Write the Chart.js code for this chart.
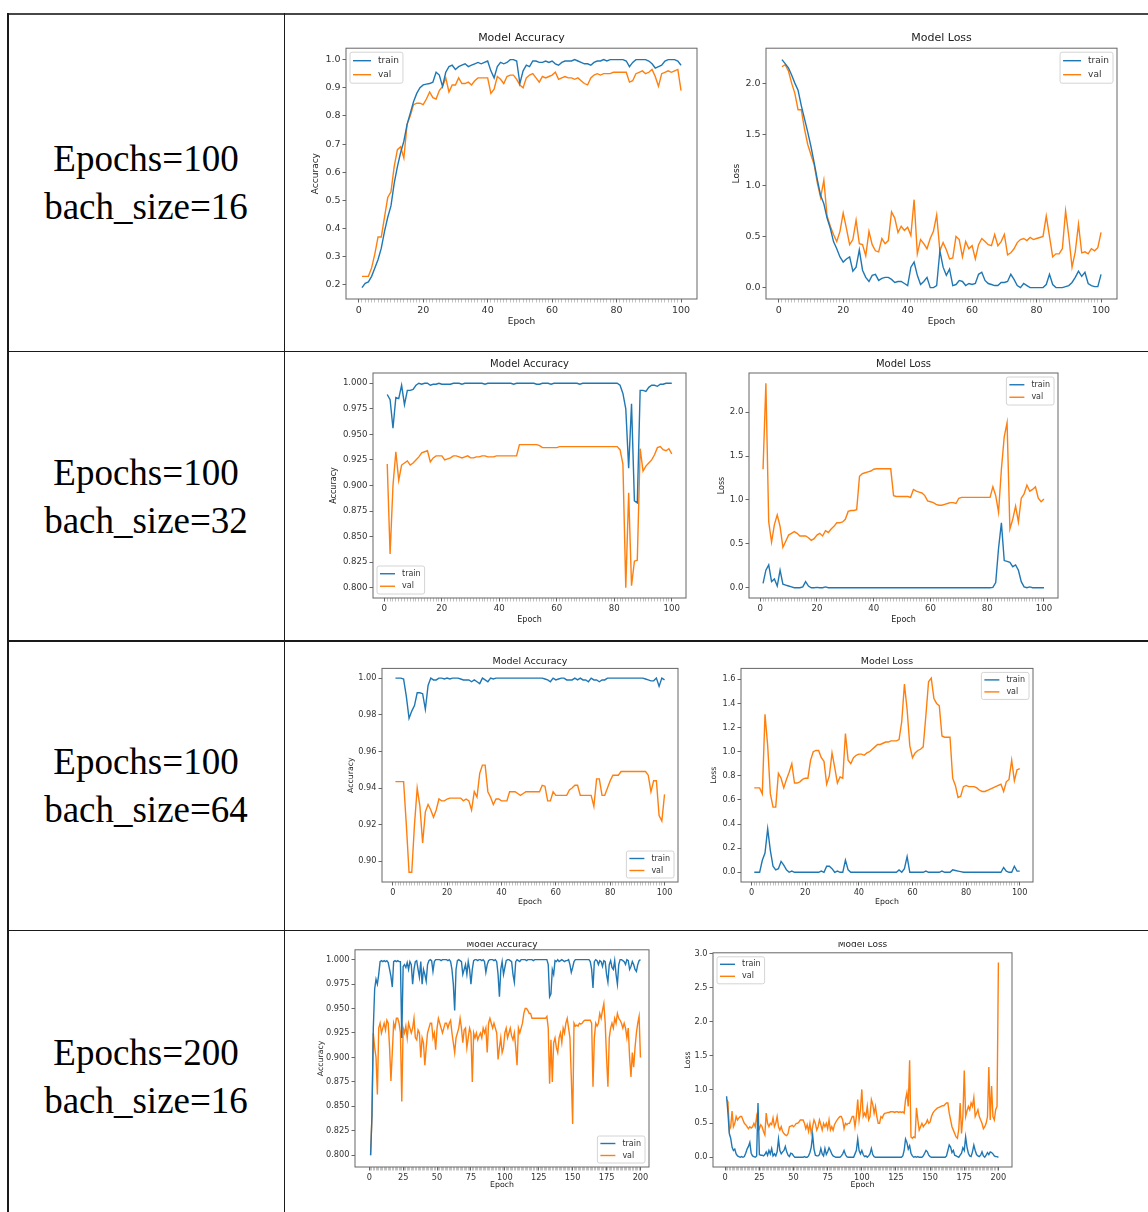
<!DOCTYPE html>
<html>
<head>
<meta charset="utf-8">
<title>Training curves</title>
<script src="https://cdn.jsdelivr.net/npm/chart.js@4.4.1/dist/chart.umd.min.js"></script>
<style>
  body { margin: 0; width: 1148px; height: 1212px; background: #fff; position: relative; overflow: hidden; }
  .rule { position: absolute; background: #1a1a1a; }
  .cell { position: absolute; left: 8px; width: 276px; display: flex; flex-direction: column;
          align-items: center; justify-content: center; font-family: "Liberation Serif", "Times New Roman", serif;
          font-size: 37px; line-height: 48px; color: #000; }
  .wrap { position: absolute; left: 0; width: 1148px; overflow: hidden; }
  .wrap canvas { position: absolute; }
</style>
</head>
<body>
<div class="rule" style="left:7px;top:13px;width:1141px;height:2px;background:#474747"></div>
<div class="rule" style="left:7px;top:13px;width:1.5px;height:1199px"></div>
<div class="rule" style="left:283.5px;top:13px;width:1.5px;height:1199px"></div>
<div class="rule" style="left:7px;top:350.5px;width:1141px;height:1.5px"></div>
<div class="rule" style="left:7px;top:640px;width:1141px;height:1.5px"></div>
<div class="rule" style="left:7px;top:929.5px;width:1141px;height:1.5px"></div>
<div id="cells"></div>
<div id="charts"></div>

<script>
// ---- row labels ----
const ROW_LABELS = [
  ['Epochs=100', 'bach_size=16'],
  ['Epochs=100', 'bach_size=32'],
  ['Epochs=100', 'bach_size=64'],
  ['Epochs=200', 'bach_size=16']
];

// ---- epochs (x categories) ----
const EPOCHS_100 = Array.from({ length: 100 }, (_, i) => i + 1);
const EPOCHS_200 = Array.from({ length: 200 }, (_, i) => i + 1);

// ---- tick labels ----
const X_LABELS_100 = [0, 20, 40, 60, 80, 100];
const X_LABELS_200 = [0, 25, 50, 75, 100, 125, 150, 175, 200];
const ACC_TICKS_B16 = [0.2, 0.3, 0.4, 0.5, 0.6, 0.7, 0.8, 0.9, 1.0];
const LOSS_TICKS_B16 = [0, 0.5, 1.0, 1.5, 2.0];
const ACC_TICKS_B32 = [0.8, 0.825, 0.85, 0.875, 0.9, 0.925, 0.95, 0.975, 1.0];
const LOSS_TICKS_B32 = [0, 0.5, 1.0, 1.5, 2.0];
const ACC_TICKS_B64 = [0.9, 0.92, 0.94, 0.96, 0.98, 1.0];
const LOSS_TICKS_B64 = [0, 0.2, 0.4, 0.6, 0.8, 1.0, 1.2, 1.4, 1.6];
const ACC_TICKS_E200 = [0.8, 0.825, 0.85, 0.875, 0.9, 0.925, 0.95, 0.975, 1.0];
const LOSS_TICKS_E200 = [0, 0.5, 1.0, 1.5, 2.0, 2.5, 3.0];

// ---- epochs=100, batch 16 ----
const ACC_TRAIN_B16 = [0.19,0.205,0.21,0.23,0.26,0.29,0.33,0.39,0.44,0.48,
  0.56,0.62,0.67,0.71,0.77,0.81,0.85,0.88,0.90,0.91,
  0.913,0.915,0.92,0.955,0.945,0.905,0.955,0.975,0.98,0.965,
  0.975,0.98,0.985,0.975,0.98,0.985,0.99,0.985,0.99,0.995,
  0.96,0.935,0.975,0.99,0.985,0.99,1.0,1.0,0.995,0.915,
  0.96,0.98,0.975,0.995,0.995,0.99,0.99,0.995,0.99,0.995,
  0.985,0.98,0.99,0.995,0.995,0.995,1.0,0.995,0.99,0.985,
  0.985,0.98,0.99,0.995,0.995,1.0,0.995,1.0,1.0,1.0,
  1.0,1.0,0.995,0.975,0.99,1.0,1.0,1.0,1.0,0.995,
  0.985,0.97,0.975,0.98,0.995,1.0,1.0,1.0,0.995,0.98];
const ACC_VAL_B16 = [0.23,0.23,0.23,0.26,0.31,0.37,0.37,0.44,0.51,0.53,
  0.62,0.68,0.69,0.65,0.77,0.80,0.84,0.845,0.845,0.84,
  0.86,0.885,0.865,0.86,0.89,0.905,0.935,0.885,0.91,0.91,
  0.935,0.915,0.915,0.92,0.91,0.925,0.935,0.935,0.935,0.935,
  0.88,0.895,0.94,0.93,0.915,0.94,0.945,0.945,0.93,0.91,
  0.9,0.935,0.945,0.95,0.935,0.92,0.94,0.935,0.94,0.945,
  0.955,0.93,0.935,0.94,0.935,0.935,0.93,0.935,0.925,0.915,
  0.91,0.935,0.945,0.95,0.945,0.95,0.95,0.95,0.955,0.955,
  0.955,0.955,0.955,0.92,0.925,0.95,0.955,0.96,0.95,0.955,
  0.965,0.94,0.905,0.95,0.955,0.96,0.955,0.96,0.965,0.89];
const LOSS_TRAIN_B16 = [2.23,2.19,2.15,2.08,2.0,1.93,1.78,1.65,1.52,1.38,
  1.22,1.05,0.9,0.82,0.68,0.58,0.45,0.38,0.3,0.25,
  0.28,0.3,0.16,0.2,0.37,0.17,0.1,0.06,0.12,0.13,
  0.07,0.09,0.1,0.1,0.08,0.05,0.06,0.06,0.04,0.02,
  0.2,0.25,0.12,0.03,0.06,0.1,0.0,0.0,0.02,0.36,
  0.2,0.12,0.18,0.02,0.03,0.07,0.06,0.02,0.04,0.03,
  0.04,0.13,0.15,0.07,0.04,0.03,0.02,0.02,0.05,0.05,
  0.06,0.13,0.08,0.02,0.0,0.04,0.02,0.0,0.0,0.0,
  0.0,0.0,0.03,0.13,0.03,0.0,0.0,0.0,0.01,0.02,
  0.05,0.1,0.16,0.11,0.15,0.04,0.02,0.01,0.01,0.13];
const LOSS_VAL_B16 = [2.16,2.18,2.12,2.0,1.9,1.74,1.74,1.55,1.4,1.3,
  1.2,1.02,0.88,1.05,0.7,0.6,0.52,0.45,0.55,0.73,
  0.58,0.42,0.47,0.66,0.43,0.42,0.31,0.55,0.42,0.36,
  0.35,0.48,0.43,0.46,0.74,0.68,0.54,0.6,0.56,0.59,
  0.51,0.86,0.33,0.47,0.43,0.38,0.48,0.55,0.71,0.36,
  0.44,0.37,0.28,0.29,0.5,0.47,0.3,0.45,0.38,0.41,
  0.28,0.42,0.48,0.45,0.42,0.41,0.52,0.41,0.45,0.52,
  0.32,0.34,0.38,0.44,0.47,0.48,0.46,0.49,0.47,0.48,
  0.49,0.5,0.7,0.5,0.3,0.33,0.33,0.38,0.75,0.5,
  0.2,0.35,0.62,0.34,0.35,0.33,0.38,0.36,0.39,0.54];

// ---- epochs=100, batch 32 ----
const ACC_TRAIN_B32 = [0.989,0.984,0.956,0.986,0.985,0.998,0.979,0.993,0.993,0.994,
  0.998,1.0,0.999,1.0,1.0,0.998,0.999,0.999,1.0,0.999,
  0.999,0.999,0.999,1.0,1.0,1.0,0.999,1.0,1.0,1.0,
  1.0,1.0,1.0,1.0,0.999,1.0,1.0,1.0,1.0,1.0,
  1.0,1.0,1.0,1.0,0.999,1.0,1.0,1.0,1.0,1.0,
  1.0,1.0,0.999,0.999,1.0,1.0,1.0,0.999,1.0,1.0,
  1.0,1.0,1.0,1.0,1.0,1.0,1.0,0.999,1.0,1.0,
  1.0,1.0,1.0,1.0,1.0,1.0,1.0,1.0,1.0,1.0,
  1.0,0.998,0.99,0.975,0.917,0.98,0.885,0.883,0.993,0.993,
  0.992,0.996,0.998,0.998,0.997,0.999,0.999,1.0,1.0,1.0];
const ACC_VAL_B32 = [0.921,0.833,0.9,0.933,0.905,0.92,0.922,0.924,0.92,0.922,
  0.925,0.928,0.932,0.933,0.934,0.923,0.927,0.929,0.929,0.929,
  0.925,0.926,0.927,0.929,0.929,0.928,0.927,0.928,0.929,0.927,
  0.927,0.928,0.928,0.929,0.929,0.928,0.928,0.928,0.929,0.929,
  0.929,0.929,0.929,0.929,0.929,0.929,0.94,0.94,0.94,0.94,
  0.94,0.94,0.94,0.939,0.937,0.937,0.937,0.937,0.937,0.937,
  0.938,0.938,0.938,0.938,0.938,0.938,0.938,0.938,0.938,0.938,
  0.938,0.938,0.938,0.938,0.938,0.938,0.938,0.938,0.938,0.938,
  0.938,0.935,0.921,0.8,0.893,0.802,0.826,0.827,0.936,0.914,
  0.919,0.922,0.925,0.93,0.937,0.938,0.935,0.934,0.936,0.931];
const LOSS_TRAIN_B32 = [0.05,0.2,0.26,0.07,0.1,0.02,0.2,0.04,0.03,0.02,
  0.01,0.0,0.0,0.0,0.01,0.07,0.02,0.0,0.0,0.005,
  0.0,0.0,0.01,0.0,0.0,0.0,0.0,0.0,0.0,0.0,
  0.0,0.0,0.0,0.0,0.0,0.0,0.0,0.0,0.0,0.0,
  0.0,0.0,0.0,0.0,0.0,0.0,0.0,0.0,0.0,0.0,
  0.0,0.0,0.0,0.0,0.0,0.0,0.0,0.0,0.0,0.0,
  0.0,0.0,0.0,0.0,0.0,0.0,0.0,0.0,0.0,0.0,
  0.0,0.0,0.0,0.0,0.0,0.0,0.0,0.0,0.0,0.0,
  0.0,0.005,0.06,0.45,0.74,0.31,0.3,0.29,0.24,0.26,
  0.2,0.07,0.01,0.0,0.01,0.0,0.0,0.0,0.0,0.0];
const LOSS_VAL_B32 = [1.35,2.33,0.75,0.52,0.72,0.83,0.7,0.46,0.53,0.6,
  0.62,0.64,0.62,0.59,0.59,0.59,0.57,0.54,0.56,0.6,
  0.62,0.59,0.65,0.63,0.67,0.7,0.74,0.74,0.75,0.78,
  0.87,0.88,0.88,0.89,1.27,1.3,1.31,1.32,1.33,1.35,
  1.355,1.355,1.355,1.355,1.355,1.355,1.05,1.04,1.04,1.04,
  1.04,1.04,1.03,1.12,1.1,1.09,1.08,1.05,0.99,0.98,
  0.97,0.95,0.94,0.94,0.95,0.96,0.97,0.97,0.96,1.02,
  1.03,1.03,1.03,1.03,1.03,1.03,1.03,1.03,1.03,1.03,
  1.03,1.15,1.05,0.86,1.35,1.72,1.88,0.67,0.78,0.93,
  0.75,1.02,1.07,1.17,1.1,1.12,1.15,1.02,0.98,1.01];

// ---- epochs=100, batch 64 ----
const ACC_TRAIN_B64 = [1.0,1.0,1.0,0.9995,0.99,0.978,0.982,0.985,0.992,0.992,
  0.9915,0.983,0.996,1.0,0.999,0.999,1.0,1.0,0.9995,1.0,
  0.9995,1.0,1.0,1.0,0.9995,0.999,0.999,0.999,0.998,0.999,
  0.998,0.997,1.0,0.999,0.998,1.0,0.9995,1.0,1.0,1.0,
  1.0,1.0,1.0,1.0,1.0,1.0,1.0,1.0,1.0,1.0,
  1.0,1.0,1.0,1.0,1.0,0.9995,0.999,0.998,1.0,0.999,
  0.9995,1.0,1.0,0.999,0.999,0.999,1.0,0.999,1.0,0.999,
  0.999,0.998,1.0,0.999,0.999,0.998,0.999,0.999,1.0,1.0,
  1.0,1.0,1.0,1.0,1.0,1.0,1.0,1.0,1.0,1.0,
  1.0,1.0,0.9995,0.999,0.9985,0.9985,1.0,0.9955,1.0,0.999];
const ACC_VAL_B64 = [0.9435,0.9435,0.9435,0.9435,0.92,0.894,0.894,0.92,0.94,0.93,
  0.91,0.927,0.931,0.928,0.924,0.928,0.934,0.933,0.933,0.934,
  0.9345,0.9345,0.9345,0.9345,0.9345,0.933,0.934,0.933,0.928,0.938,
  0.935,0.948,0.9525,0.9525,0.938,0.935,0.931,0.934,0.934,0.933,
  0.933,0.933,0.938,0.938,0.938,0.937,0.936,0.937,0.938,0.938,
  0.938,0.938,0.938,0.938,0.9415,0.941,0.933,0.933,0.938,0.936,
  0.936,0.936,0.936,0.936,0.939,0.94,0.9415,0.9415,0.936,0.936,
  0.936,0.936,0.936,0.93,0.945,0.945,0.936,0.936,0.94,0.944,
  0.947,0.947,0.947,0.949,0.949,0.949,0.949,0.949,0.949,0.949,
  0.949,0.949,0.949,0.947,0.938,0.944,0.944,0.925,0.922,0.9365];
const LOSS_TRAIN_B64 = [0.0,0.0,0.0,0.1,0.16,0.36,0.18,0.05,0.02,0.03,
  0.09,0.06,0.02,0.0,0.01,0.0,0.0,0.0,0.0,0.0,
  0.0,0.0,0.0,0.0,0.0,0.01,0.0,0.05,0.05,0.03,
  0.0,0.01,0.0,0.0,0.1,0.02,0.0,0.0,0.0,0.0,
  0.0,0.0,0.0,0.0,0.0,0.0,0.0,0.0,0.0,0.0,
  0.0,0.0,0.0,0.0,0.02,0.0,0.03,0.13,0.0,0.0,
  0.0,0.0,0.0,0.0,0.01,0.0,0.0,0.0,0.0,0.0,
  0.01,0.0,0.0,0.0,0.02,0.015,0.01,0.005,0.0,0.0,
  0.0,0.0,0.0,0.0,0.0,0.0,0.0,0.0,0.0,0.0,
  0.0,0.0,0.0,0.04,0.01,0.0,0.0,0.05,0.01,0.01];
const LOSS_VAL_B64 = [0.7,0.7,0.7,0.65,1.31,1.05,0.65,0.54,0.54,0.82,
  0.78,0.7,0.77,0.83,0.9,0.74,0.74,0.75,0.77,0.78,
  0.78,0.93,1.0,1.01,1.01,0.95,0.92,0.73,0.8,0.99,
  0.87,0.74,0.79,0.78,1.15,0.93,0.9,0.95,0.97,0.98,
  0.98,0.97,0.99,1.0,1.02,1.04,1.06,1.06,1.07,1.08,
  1.08,1.09,1.09,1.09,1.1,1.25,1.56,1.35,1.05,0.95,
  0.99,1.01,1.02,1.04,1.3,1.58,1.61,1.44,1.4,1.38,
  1.13,1.12,1.12,1.12,0.78,0.72,0.62,0.63,0.71,0.72,
  0.71,0.71,0.71,0.7,0.68,0.67,0.67,0.68,0.69,0.7,
  0.71,0.72,0.73,0.67,0.75,0.77,0.93,0.76,0.85,0.86];

// ---- epochs=200, batch 16 ----
const ACC_TRAIN_E200 = [0.80,0.84,0.93,0.97,0.98,0.975,0.985,0.998,0.999,0.998,
  0.999,0.998,0.999,0.997,0.99,0.983,0.972,0.998,0.999,0.998,
  0.999,0.998,0.998,0.92,0.993,0.995,0.992,0.997,0.99,0.998,
  0.995,0.975,0.99,0.998,0.999,0.99,0.982,0.998,0.975,0.99,
  0.985,0.978,0.995,0.999,1.0,0.999,0.988,0.998,1.0,1.0,
  1.0,1.0,0.999,1.0,1.0,1.0,1.0,0.999,1.0,0.998,
  0.99,0.975,0.948,0.99,0.999,1.0,0.999,0.998,0.985,0.99,
  0.995,0.985,0.998,0.99,0.975,0.99,0.999,1.0,1.0,0.999,
  1.0,1.0,0.999,1.0,0.998,0.987,0.995,0.999,1.0,1.0,
  1.0,0.999,1.0,0.998,0.985,0.962,0.99,0.998,0.985,0.992,
  0.999,1.0,1.0,0.999,0.998,0.985,0.977,0.998,1.0,0.999,
  0.998,1.0,1.0,1.0,1.0,0.999,1.0,1.0,1.0,1.0,
  0.999,1.0,1.0,1.0,1.0,1.0,1.0,1.0,1.0,1.0,
  1.0,0.995,0.962,0.965,0.99,0.985,0.999,0.998,1.0,0.998,
  0.999,1.0,0.999,0.998,0.999,0.999,1.0,0.995,0.987,0.992,
  0.998,1.0,1.0,1.0,1.0,1.0,1.0,1.0,1.0,1.0,
  1.0,1.0,0.998,0.99,0.971,0.998,1.0,0.999,0.995,0.999,
  0.998,0.993,0.999,0.998,0.985,0.977,0.995,0.999,0.992,0.99,
  0.999,0.985,0.975,0.995,1.0,1.0,0.999,0.998,0.995,1.0,
  0.999,0.99,0.993,0.998,0.995,0.99,0.988,0.995,0.999,1.0];
const ACC_VAL_E200 = [0.80,0.84,0.925,0.91,0.90,0.862,0.93,0.935,0.925,0.93,
  0.935,0.928,0.938,0.935,0.91,0.876,0.905,0.935,0.93,0.94,
  0.94,0.935,0.925,0.855,0.93,0.925,0.932,0.92,0.935,0.93,
  0.925,0.93,0.94,0.92,0.918,0.928,0.925,0.9,0.92,0.915,
  0.892,0.91,0.925,0.93,0.935,0.935,0.92,0.925,0.908,0.93,
  0.94,0.935,0.93,0.925,0.93,0.935,0.935,0.93,0.935,0.938,
  0.925,0.915,0.905,0.92,0.925,0.93,0.94,0.93,0.915,0.928,
  0.93,0.91,0.92,0.93,0.925,0.875,0.925,0.92,0.925,0.918,
  0.922,0.925,0.92,0.93,0.925,0.93,0.905,0.935,0.94,0.935,
  0.93,0.935,0.93,0.925,0.898,0.91,0.92,0.905,0.91,0.925,
  0.93,0.92,0.925,0.93,0.922,0.918,0.925,0.91,0.892,0.93,
  0.925,0.93,0.935,0.945,0.95,0.95,0.948,0.945,0.945,0.94,
  0.94,0.94,0.94,0.94,0.94,0.94,0.94,0.94,0.94,0.94,
  0.942,0.93,0.873,0.918,0.875,0.915,0.92,0.91,0.905,0.92,
  0.925,0.915,0.93,0.925,0.935,0.94,0.93,0.92,0.88,0.832,
  0.935,0.932,0.933,0.932,0.935,0.934,0.935,0.937,0.938,0.938,
  0.938,0.938,0.938,0.935,0.87,0.92,0.935,0.932,0.935,0.945,
  0.94,0.948,0.955,0.935,0.9,0.87,0.92,0.93,0.935,0.93,
  0.94,0.935,0.945,0.94,0.938,0.935,0.93,0.935,0.93,0.92,
  0.93,0.9,0.88,0.905,0.89,0.91,0.925,0.935,0.942,0.9];
const LOSS_TRAIN_E200 = [0.9,0.65,0.35,0.28,0.15,0.1,0.12,0.05,0.02,0.01,
  0.0,0.01,0.0,0.01,0.06,0.12,0.16,0.22,0.06,0.02,
  0.01,0.0,0.02,0.8,0.04,0.03,0.03,0.02,0.04,0.08,
  0.03,0.1,0.05,0.13,0.02,0.05,0.02,0.08,0.27,0.1,
  0.05,0.08,0.1,0.16,0.08,0.03,0.01,0.06,0.05,0.02,
  0.0,0.0,0.0,0.0,0.0,0.0,0.0,0.01,0.0,0.0,
  0.02,0.07,0.15,0.33,0.12,0.03,0.02,0.02,0.04,0.13,
  0.05,0.02,0.13,0.04,0.08,0.14,0.1,0.05,0.02,0.01,
  0.0,0.0,0.0,0.0,0.02,0.05,0.1,0.04,0.01,0.0,
  0.0,0.0,0.0,0.0,0.05,0.1,0.27,0.1,0.05,0.1,
  0.04,0.01,0.02,0.0,0.02,0.05,0.13,0.04,0.01,0.0,
  0.0,0.0,0.0,0.0,0.0,0.0,0.0,0.0,0.0,0.0,
  0.0,0.0,0.0,0.0,0.0,0.0,0.0,0.0,0.0,0.02,
  0.1,0.27,0.22,0.12,0.17,0.06,0.02,0.0,0.01,0.0,
  0.01,0.0,0.0,0.0,0.02,0.06,0.1,0.08,0.03,0.01,
  0.0,0.0,0.0,0.0,0.0,0.0,0.0,0.0,0.0,0.0,
  0.0,0.02,0.1,0.18,0.15,0.07,0.1,0.03,0.02,0.01,
  0.0,0.03,0.06,0.14,0.1,0.3,0.15,0.06,0.02,0.01,
  0.08,0.18,0.1,0.04,0.02,0.01,0.03,0.08,0.02,0.0,
  0.03,0.07,0.04,0.08,0.07,0.05,0.02,0.01,0.01,0.0];
const LOSS_VAL_E200 = [0.85,0.82,0.4,0.45,0.68,0.45,0.5,0.6,0.55,0.58,
  0.6,0.6,0.55,0.5,0.48,0.45,0.42,0.45,0.43,0.45,
  0.5,0.45,0.6,0.48,0.42,0.48,0.45,0.38,0.33,0.65,
  0.5,0.45,0.5,0.48,0.58,0.45,0.5,0.6,0.45,0.4,
  0.45,0.38,0.35,0.33,0.32,0.35,0.45,0.46,0.47,0.45,
  0.47,0.5,0.5,0.52,0.55,0.55,0.55,0.5,0.42,0.48,
  0.38,0.5,0.35,0.45,0.55,0.5,0.4,0.45,0.55,0.48,
  0.4,0.5,0.45,0.5,0.42,0.55,0.4,0.45,0.4,0.48,
  0.52,0.55,0.58,0.6,0.6,0.55,0.42,0.5,0.48,0.5,
  0.5,0.55,0.6,0.6,0.45,0.6,0.85,0.55,0.7,1.0,
  0.6,0.65,0.6,0.75,0.55,0.6,0.85,0.78,0.65,0.75,
  0.6,0.5,0.5,0.6,0.58,0.63,0.65,0.65,0.66,0.66,
  0.67,0.67,0.67,0.66,0.67,0.67,0.66,0.67,0.66,0.67,
  0.65,0.85,0.95,0.75,1.43,0.3,0.28,0.3,0.29,0.73,
  0.55,0.4,0.45,0.5,0.45,0.48,0.5,0.55,0.5,0.52,
  0.6,0.65,0.68,0.7,0.72,0.73,0.74,0.75,0.76,0.76,
  0.78,0.8,0.8,0.65,0.55,0.45,0.4,0.35,0.3,0.28,
  0.42,0.8,0.35,0.6,1.28,0.6,0.68,0.75,0.7,0.8,
  0.75,0.88,0.6,0.65,0.7,0.6,0.55,0.5,0.42,0.45,
  0.5,0.6,1.33,0.55,1.05,0.6,0.55,0.7,0.75,2.87];

const BLUE = '#1f77b4';
const ORANGE = '#ff7f0e';
Chart.defaults.font.family = '"DejaVu Sans", sans-serif';

// frame around the plot + matplotlib-like legend box inside it
const frameLegend = {
  id: 'frameLegend',
  afterDatasetsDraw(chart, args, opts) {
    const { ctx, chartArea: a } = chart;
    ctx.save();
    ctx.strokeStyle = '#666';
    ctx.lineWidth = 1;
    ctx.strokeRect(a.left, a.top, a.right - a.left, a.bottom - a.top);

    const sets = chart.data.datasets;
    ctx.font = opts.fontSize + 'px "DejaVu Sans"';
    const tw = Math.max(...sets.map(d => ctx.measureText(d.label).width));
    const w = 3 + opts.lineLen + 7 + tw + 4;
    const h = sets.length * opts.rowH + 3;
    const x = opts.corner.includes('left') ? a.left + 4 : a.right - 4 - w;
    const y = opts.corner.includes('top') ? a.top + 4 : a.bottom - 4 - h;
    ctx.fillStyle = 'rgba(255,255,255,0.85)';
    ctx.strokeStyle = '#d4d4d4';
    ctx.beginPath();
    ctx.roundRect(x, y, w, h, 2);
    ctx.fill();
    ctx.stroke();
    sets.forEach((d, i) => {
      const cy = y + 1.5 + opts.rowH * (i + 0.5);
      ctx.strokeStyle = d.borderColor;
      ctx.lineWidth = 1.4;
      ctx.beginPath();
      ctx.moveTo(x + 3, cy);
      ctx.lineTo(x + 3 + opts.lineLen, cy);
      ctx.stroke();
      ctx.fillStyle = '#333';
      ctx.textBaseline = 'middle';
      ctx.fillText(d.label, x + 3 + opts.lineLen + 7, cy);
    });
    ctx.restore();
  }
};

// plot box = [left, top, right, bottom] of the axes frame on the page
const CHARTS = [
  { title: 'Model Accuracy', yLabel: 'Accuracy', box: [346, 48, 697, 299], epochs: EPOCHS_100, train: ACC_TRAIN_B16, val: ACC_VAL_B16,
    xMin: -3.95, xMax: 104.95, yMin: 0.1495, yMax: 1.0405, yTicks: ACC_TICKS_B16, dec: 1, xLabels: X_LABELS_100,
    titleSize: 11, titlePB: 3, tickSize: 9.5, labelSize: 9, yW: 36, xH: 30, legend: 'top-left', legendSize: 9, rowH: 14, lineLen: 18 },
  { title: 'Model Loss', yLabel: 'Loss', box: [766, 48, 1117, 299], epochs: EPOCHS_100, train: LOSS_TRAIN_B16, val: LOSS_VAL_B16,
    xMin: -3.95, xMax: 104.95, yMin: -0.1115, yMax: 2.3415, yTicks: LOSS_TICKS_B16, dec: 1, xLabels: X_LABELS_100,
    titleSize: 11, titlePB: 3, tickSize: 9.5, labelSize: 9, yW: 35, xH: 30, legend: 'top-right', legendSize: 9, rowH: 14, lineLen: 18 },
  { title: 'Model Accuracy', yLabel: 'Accuracy', box: [373, 373, 686, 598], epochs: EPOCHS_100, train: ACC_TRAIN_B32, val: ACC_VAL_B32,
    xMin: -3.95, xMax: 104.95, yMin: 0.79, yMax: 1.01, yTicks: ACC_TICKS_B32, dec: 3, xLabels: X_LABELS_100,
    titleSize: 10, titlePB: 3, tickSize: 8.6, labelSize: 8, yW: 44, xH: 29, legend: 'bottom-left', legendSize: 8, rowH: 12.5, lineLen: 15 },
  { title: 'Model Loss', yLabel: 'Loss', box: [749, 373, 1058, 598], epochs: EPOCHS_100, train: LOSS_TRAIN_B32, val: LOSS_VAL_B32,
    xMin: -3.95, xMax: 104.95, yMin: -0.1165, yMax: 2.4465, yTicks: LOSS_TICKS_B32, dec: 1, xLabels: X_LABELS_100,
    titleSize: 10, titlePB: 3, tickSize: 8.6, labelSize: 8, yW: 32, xH: 29, legend: 'top-right', legendSize: 8, rowH: 12.5, lineLen: 15 },
  { title: 'Model Accuracy', yLabel: 'Accuracy', box: [382, 668, 678, 882], epochs: EPOCHS_100, train: ACC_TRAIN_B64, val: ACC_VAL_B64,
    xMin: -3.95, xMax: 104.95, yMin: 0.8887, yMax: 1.0053, yTicks: ACC_TICKS_B64, dec: 2, xLabels: X_LABELS_100,
    titleSize: 9.5, titlePB: 1, tickSize: 8.2, labelSize: 7.8, yW: 36, xH: 27, legend: 'bottom-right', legendSize: 8, rowH: 12, lineLen: 15 },
  { title: 'Model Loss', yLabel: 'Loss', box: [741, 668, 1033, 882], epochs: EPOCHS_100, train: LOSS_TRAIN_B64, val: LOSS_VAL_B64,
    xMin: -3.95, xMax: 104.95, yMin: -0.0805, yMax: 1.6905, yTicks: LOSS_TICKS_B64, dec: 1, xLabels: X_LABELS_100,
    titleSize: 9.5, titlePB: 1, tickSize: 8.2, labelSize: 7.8, yW: 32, xH: 27, legend: 'top-right', legendSize: 8, rowH: 12, lineLen: 15 },
  { title: 'Model Accuracy', yLabel: 'Accuracy', box: [355, 950, 649, 1167], epochs: EPOCHS_200, train: ACC_TRAIN_E200, val: ACC_VAL_E200,
    xMin: -10.5, xMax: 206.3, yMin: 0.7879, yMax: 1.0101, yTicks: ACC_TICKS_E200, dec: 3, xLabels: X_LABELS_200,
    titleSize: 9, titlePB: 0, tickSize: 8.2, labelSize: 7.8, yW: 39, xH: 25, legend: 'bottom-right', legendSize: 8, rowH: 12, lineLen: 15, clipTop: 942 },
  { title: 'Model Loss', yLabel: 'Loss', box: [713, 953, 1012, 1167], epochs: EPOCHS_200, train: LOSS_TRAIN_E200, val: LOSS_VAL_E200,
    xMin: -8.95, xMax: 209.95, yMin: -0.1435, yMax: 3.0135, yTicks: LOSS_TICKS_E200, dec: 1, xLabels: X_LABELS_200,
    titleSize: 9, titlePB: 3, tickSize: 8.2, labelSize: 7.8, yW: 30, xH: 25, legend: 'top-left', legendSize: 8, rowH: 12, lineLen: 15, clipTop: 942 }
];

function makeChart(cfg) {
  const [L, T, R, B] = cfg.box;
  const padTop = 2, padRight = 14, padBottom = 2;
  const titleH = cfg.titleSize * 1.2 + cfg.titlePB;
  const clipTop = cfg.clipTop || 0;

  const wrap = document.createElement('div');
  wrap.className = 'wrap';
  wrap.style.top = clipTop + 'px';
  wrap.style.height = (1212 - clipTop) + 'px';
  const canvas = document.createElement('canvas');
  const width = Math.round(cfg.yW + (R - L) + padRight);
  const height = Math.round(padTop + titleH + (B - T) + cfg.xH + padBottom);
  canvas.width = width;
  canvas.height = height;
  canvas.style.width = width + 'px';
  canvas.style.height = height + 'px';
  canvas.style.left = (L - cfg.yW) + 'px';
  canvas.style.top = (T - titleH - padTop - clipTop) + 'px';
  wrap.appendChild(canvas);
  document.getElementById('charts').appendChild(wrap);

  // major ticks darker, the per-epoch marks lighter and thinner
  const isMajorX = (c) => c.tick && cfg.xLabels.includes(c.tick.value);
  const xGrid = {
    drawOnChartArea: false, drawTicks: true, tickLength: 3.5,
    tickColor: (c) => isMajorX(c) ? '#555' : '#9a9a9a',
    tickWidth: (c) => isMajorX(c) ? 0.9 : 0.6
  };
  const yGrid = { drawOnChartArea: false, drawTicks: true, tickLength: 3.5, tickColor: '#555', tickWidth: 0.9 };

  new Chart(canvas.getContext('2d'), {
    type: 'line',
    data: {
      labels: cfg.epochs,
      datasets: [
        { label: 'train', data: cfg.train, borderColor: BLUE, borderWidth: 1.4, pointRadius: 0, tension: 0, fill: false },
        { label: 'val', data: cfg.val, borderColor: ORANGE, borderWidth: 1.4, pointRadius: 0, tension: 0, fill: false }
      ]
    },
    options: {
      responsive: false,
      animation: false,
      devicePixelRatio: 1,
      layout: { padding: { top: padTop, right: padRight, bottom: padBottom, left: 0 } },
      plugins: {
        legend: { display: false },
        tooltip: { enabled: false },
        title: {
          display: true,
          text: cfg.title,
          fullSize: false,
          color: '#222',
          font: { size: cfg.titleSize, weight: 'normal', lineHeight: 1.2 },
          padding: { top: 0, bottom: cfg.titlePB }
        },
        frameLegend: { corner: cfg.legend, fontSize: cfg.legendSize, rowH: cfg.rowH, lineLen: cfg.lineLen }
      },
      scales: {
        x: {
          type: 'linear',
          min: cfg.xMin,
          max: cfg.xMax,
          afterBuildTicks: (s) => { s.ticks = [0, ...cfg.epochs].map(v => ({ value: v })); },
          afterFit: (s) => { s.height = cfg.xH; },
          ticks: {
            autoSkip: false, maxRotation: 0, minRotation: 0, padding: 2, color: '#333',
            font: { size: cfg.tickSize },
            callback: (v) => cfg.xLabels.includes(v) ? String(v) : ''
          },
          grid: xGrid,
          border: { display: false },
          title: { display: true, text: 'Epoch', color: '#222', font: { size: cfg.labelSize }, padding: { top: 0, bottom: 2 } }
        },
        y: {
          min: cfg.yMin,
          max: cfg.yMax,
          afterBuildTicks: (s) => { s.ticks = cfg.yTicks.map(v => ({ value: v })); },
          afterFit: (s) => { s.width = cfg.yW; },
          ticks: {
            padding: 2, color: '#333',
            font: { size: cfg.tickSize },
            callback: (v) => Number(v).toFixed(cfg.dec)
          },
          grid: yGrid,
          border: { display: false },
          title: { display: true, text: cfg.yLabel, color: '#222', font: { size: cfg.labelSize }, padding: { top: 0, bottom: 0 } }
        }
      }
    },
    plugins: [frameLegend]
  });
}

// table label cells
const ROW_BOUNDS = [[15, 351], [352, 641], [641, 930], [931, 1222]];
ROW_LABELS.forEach((lines, i) => {
  const cell = document.createElement('div');
  cell.className = 'cell';
  cell.style.top = ROW_BOUNDS[i][0] + 'px';
  cell.style.height = (ROW_BOUNDS[i][1] - ROW_BOUNDS[i][0]) + 'px';
  lines.forEach(t => {
    const s = document.createElement('div');
    s.textContent = t;
    cell.appendChild(s);
  });
  document.getElementById('cells').appendChild(cell);
});

CHARTS.forEach(makeChart);
</script>
</body>
</html>
